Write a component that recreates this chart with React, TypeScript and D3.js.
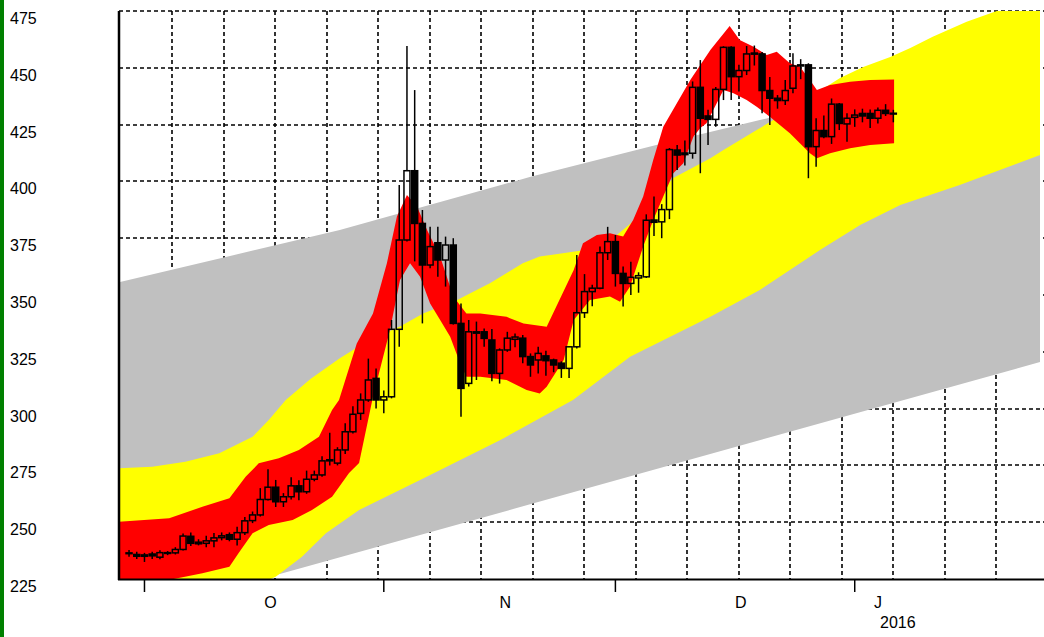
import React from 'react';
import * as d3 from 'd3';

// ---- data ----
const START = Date.UTC(2015, 8, 29); // first candle: 29 Sep 2015
const DAY = 864e5;

const opens = [
  236.5, 235.8, 235, 236, 234.6, 236.4, 236.5, 238, 243.8, 241.2,
  240.7, 241.8, 243.2, 244.5, 242.5, 245.4, 250.7, 253.2, 260, 265.4,
  259, 261.2, 266, 263.4, 268.9, 270.8, 277, 276, 281.8, 289.8,
  297.9, 303.8, 313.3, 303.8, 305.2, 334.9, 374.2, 404.7, 381.5, 363.2,
  373, 365.4, 372, 337.5, 311.1, 333.2, 333.8, 330.2, 315.5, 325.8,
  330.5, 331, 322.9, 321.4, 323.2, 321.4, 320, 317.7, 327.2, 342.2,
  351.5, 353, 368.6, 373.5, 359.5, 355.1, 357.5, 358, 383, 382.2,
  387.6, 413.8, 412.5, 412.4, 441.4, 428.8, 427.3, 440.5, 459, 446.1,
  448.8, 456, 456.1, 440, 436.6, 435.6, 441, 450.8, 451.3, 415.3,
  422.4, 419.7, 434, 425.3, 428.2, 429.9, 429.9, 427.8, 431.3, 430,
];
const highs = [
  237.8, 237, 236.5, 237, 237.7, 237.3, 239, 245, 245.5, 242.5,
  244, 245.2, 245.5, 245.5, 248, 252.3, 254.7, 265, 273.3, 268.6,
  262.8, 269.8, 268.5, 272.7, 272.7, 279, 289.4, 283, 293.5, 301,
  306.7, 322, 317.7, 308, 339, 398.4, 459.6, 440.2, 387.4, 380,
  380, 375.7, 375, 346.3, 339, 338.3, 335.3, 335, 326.5, 333.8,
  333, 332.4, 324.3, 327.2, 325.5, 322, 320.8, 327.5, 367.6, 359.2,
  354.5, 371.3, 380, 376.4, 362.5, 364.6, 360, 385.5, 393.3, 390,
  414.7, 416, 418, 444, 453.4, 431.5, 441.5, 459.5, 459.5, 451.3,
  459.6, 459.8, 457, 446, 438, 444.6, 456.4, 453.8, 452, 427.8,
  429, 436.5, 434.5, 430, 431.7, 432, 431.7, 432.5, 434, 431.5,
];
const lows = [
  234.8, 233.8, 232.5, 233.8, 233.7, 235.5, 235.8, 237.5, 239.5, 239.8,
  239, 239, 242, 241.6, 239.7, 244.4, 249.6, 252.5, 259.5, 256.7,
  256.7, 260, 259.7, 262.5, 268, 270, 275, 275, 280, 289,
  295, 303, 300, 298, 304.5, 327.2, 373.5, 364.8, 337.5, 361.8,
  358, 353.7, 337, 296.4, 309.7, 312.6, 327.2, 312, 311, 325,
  327, 320, 314, 315.5, 314.5, 316, 313.5, 313.5, 326.5, 339.9,
  345, 352.5, 365.4, 353.7, 344.9, 350, 351, 357.5, 376, 375,
  383.4, 405, 407, 410, 403.6, 416, 424, 435.8, 435.8, 439.6,
  446.8, 451, 430, 424.8, 432, 433.6, 438.8, 445, 401.4, 406.5,
  419, 416.5, 422.6, 417.5, 424, 426, 423.5, 425.5, 428.8, 426,
];
const closes = [
  236.2, 235, 235.6, 235.2, 236.6, 236.6, 238, 243.9, 240.7, 240.5,
  241.8, 243.1, 244, 242.5, 245.4, 250.6, 253.2, 260, 265.4, 259,
  261.2, 266, 263.4, 268.9, 270.8, 277, 277.5, 281.8, 289.8, 297.5,
  303.8, 312.6, 303.8, 305.2, 334.9, 374.2, 404.7, 381.5, 363.2, 371.3,
  365.4, 372, 337.5, 308.9, 333.8, 333.8, 330.9, 315.5, 325.8, 331,
  331.5, 322.9, 319.2, 324.3, 321.1, 319.2, 317.7, 327.2, 342.2, 351.5,
  353, 368.6, 373.5, 359.5, 355.1, 357.8, 358.5, 382.9, 382, 387.6,
  414, 411.6, 411.8, 441.4, 427.8, 427.3, 440.5, 459, 446.1, 448.8,
  456.1, 456.5, 440, 436.6, 435.6, 440, 450.8, 451.3, 415.3, 422.4,
  419.7, 434, 425.5, 427.8, 429.2, 428.8, 427.8, 431.3, 429.9, 430,
];

const yTicks = [225, 250, 275, 300, 325, 350, 375, 400, 425, 450, 475];
const monthLabels = ['O', 'N', 'D', 'J'];
const yearLabel = '2016';

// bands: [day offset from first candle, value]
const grayUpper: [number, number][] = [
  [-1.3, 355.6], [27.3, 378.6], [51.9, 401.9], [68.8, 416.5], [82.6, 427.7], [118, 458],
];
const grayLower: [number, number][] = [
  [-1.3, 207.5], [17.2, 225], [54.5, 260.3], [118, 320.5],
];
const yellowUpper: [number, number][] = [
  [-1.3, 273.7], [3.0, 274.4], [7.3, 276.6], [11.7, 280.3], [16.0, 287.6], [18.1, 295],
  [20.3, 303.8], [23.5, 313], [27.3, 322.2], [31, 330], [35.1, 336.1], [38.1, 341.9],
  [42.5, 347.8], [46.8, 355.3], [51.0, 364], [53.2, 366.9], [58.4, 369.5], [62, 373],
  [66.2, 385], [70.5, 401.5], [75.3, 410.2], [77.0, 413.8], [81.3, 422.6], [83.9, 427.9],
  [92.1, 445.5], [95.1, 450.3], [98.6, 454.7], [101.2, 458.7], [104.1, 463.7],
  [108.5, 470.3], [112.4, 475], [118, 483],
];
const yellowLower: [number, number][] = [
  [-1.3, 200], [10, 212], [19, 226], [22.4, 234.8], [25.5, 245.1], [29.8, 255.4],
  [37.7, 268.6], [48.1, 286.2], [57.5, 303.8], [64.9, 322.8], [75.3, 340.4], [81.7, 352.2],
  [89.5, 369.8], [94.7, 380.8], [99.9, 389.6], [107.6, 398.4], [118, 411.6],
];
const redUpper: [number, number][] = [
  [-1.3, 250.2], [5.2, 251.7], [9.5, 256.8], [13.0, 260.5], [15.1, 270], [16.8, 275.9],
  [19.4, 278.1], [22.0, 281.8], [24.6, 287.6], [26.3, 299.4], [27.2, 303.8], [29.5, 328.7],
  [31.6, 341.9], [33.4, 364], [34.7, 384.5], [36.0, 394], [37.3, 388.9], [38.6, 378.6],
  [40.3, 366.9], [42.0, 349.3], [43.7, 341.9], [45.5, 341.9], [48.9, 340.4], [51.1, 337.5],
  [54.1, 336], [57.6, 361], [58.8, 372.8], [60.6, 376.4], [62.3, 377.2], [64.0, 375.7],
  [65.3, 383], [66.6, 393.3], [67.9, 409.4], [69.2, 424.1], [72.7, 444.6], [75.3, 457.8],
  [77.8, 468.4], [79.1, 462.2], [80.9, 459.3], [82.6, 455.6], [83.9, 457.1], [85.6, 452],
  [86.9, 450.5], [88.2, 444.6], [89.1, 440.2], [90.8, 442.4], [93.4, 443.9], [96.0, 444.6],
  [99.1, 444.9],
];
const redLower: [number, number][] = [
  [-1.3, 221], [5.2, 224.6], [9.5, 227.5], [13.0, 230.4], [14.2, 236.4], [16.0, 245.1],
  [18.1, 248.8], [21.2, 251], [23.7, 255.4], [26.3, 261.2], [28.5, 271.7], [29.8, 276.1],
  [31.6, 305.2], [33.8, 334.6], [35.1, 356.6], [36.4, 364], [37.7, 358], [39.0, 346.3],
  [40.3, 339], [41.6, 331.6], [42.9, 319.9], [43.7, 314], [45.5, 314], [48.9, 312.6],
  [51.5, 308.2], [53.2, 306.7], [54.1, 309.6], [56.3, 321.4], [57.6, 339], [59.7, 347.8],
  [62.3, 349.3], [63.6, 347], [64.9, 353.7], [66.6, 371.3], [67.9, 383], [69.2, 393.3],
  [70.5, 403.6], [71.8, 408], [73.1, 419.7], [74.0, 423.5], [74.8, 425.6], [77.0, 440.2],
  [78.3, 438.8], [80.0, 435.8], [81.3, 432.9], [83.0, 428.5], [85.6, 421.2], [86.9, 416.8],
  [88.2, 412.4], [89.1, 410.2], [90.8, 412.4], [93.4, 414.6], [96.0, 416], [99.1, 416.8],
];

const FONT = '"Liberation Sans", Arial, sans-serif';

export default function App() {
  const W = 1044;
  const H = 637;
  const left = 119;
  const right = 1040;
  const top = 11;
  const bottom = 579;

  const x = d3
    .scaleUtc()
    .domain([new Date(START - 1.3 * DAY), new Date(START + 118 * DAY)])
    .range([left, right]);
  const y = d3.scaleLinear().domain([225, 475]).range([bottom, top]);
  const xd = (d: number) => x(new Date(START + d * DAY));

  const line = d3
    .line<[number, number]>()
    .x((p) => xd(p[0]))
    .y((p) => y(p[1]));
  const band = (upper: [number, number][], lower: [number, number][]) => {
    const up = line(upper) as string;
    const lo = line([...lower].reverse()) as string;
    return up + 'L' + lo.slice(1) + 'Z';
  };

  const lastDate = new Date(START + (opens.length - 1) * DAY);
  const months = d3.utcMonth.range(x.domain()[0], x.domain()[1]);
  const monthMarks = months.map((m, i) => {
    const next = d3.utcMonth.offset(m, 1);
    const end = next < lastDate ? next : lastDate;
    return { tx: x(m), lx: (x(m) + x(end)) / 2, label: monthLabels[i] };
  });

  const gridX = d3.range(1, 18).map((k) => left + 1.5 + 51.5 * k);
  const gridY = yTicks.filter((v) => v > 225);

  return (
    <svg
      width={W}
      height={H}
      style={{ position: 'absolute', left: 0, top: 0, background: '#fff' }}
      fontFamily={FONT}
    >
      <defs>
        <clipPath id="plot">
          <rect x={left} y={top} width={right - left} height={bottom - top} />
        </clipPath>
      </defs>
      <rect x={0} y={0} width={W} height={H} fill="#fff" />

      {/* grid */}
      <g stroke="#000" strokeWidth={1.6} strokeDasharray="4,3">
        {gridY.map((v) => (
          <line key={'h' + v} x1={left} x2={W} y1={Math.round(y(v))} y2={Math.round(y(v))} />
        ))}
        {gridX.map((gx) => (
          <line key={'v' + gx} x1={Math.round(gx)} x2={Math.round(gx)} y1={top} y2={bottom} />
        ))}
      </g>

      {/* bands */}
      <g clipPath="url(#plot)">
        <path d={band(grayUpper, grayLower)} fill="#c0c0c0" />
        <path d={band(yellowUpper, yellowLower)} fill="#ffff00" />
        <path d={band(redUpper, redLower)} fill="#ff0000" />
      </g>

      {/* candles */}
      <g clipPath="url(#plot)">
        {opens.map((o, i) => {
          const c = closes[i];
          const cx = xd(i);
          const hiBody = Math.max(o, c);
          const loBody = Math.min(o, c);
          const yTop = y(hiBody);
          const yBot = y(loBody);
          const down = c < o;
          return (
            <g key={i}>
              <line x1={cx} x2={cx} y1={y(highs[i])} y2={yTop} stroke="#000" strokeWidth={1.5} />
              <line x1={cx} x2={cx} y1={yBot} y2={y(lows[i])} stroke="#000" strokeWidth={1.5} />
              <rect
                x={cx - 3}
                y={yTop}
                width={6}
                height={Math.max(0.8, yBot - yTop)}
                fill={down ? '#000' : 'none'}
                stroke="#000"
                strokeWidth={1.5}
              />
            </g>
          );
        })}
      </g>

      {/* axes */}
      <line x1={left} x2={left} y1={top} y2={bottom + 1} stroke="#000" strokeWidth={2.5} />
      <line x1={left - 1} x2={W} y1={bottom + 0.5} y2={bottom + 0.5} stroke="#000" strokeWidth={2} />

      {yTicks.map((v) => (
        <text key={'yl' + v} x={10} y={y(v) + 7.5} fontSize={16} dominantBaseline="central" fill="#000">
          {v}
        </text>
      ))}

      {monthMarks.map((m) => (
        <g key={m.label}>
          <line x1={m.tx} x2={m.tx} y1={bottom} y2={bottom + 13} stroke="#000" strokeWidth={1.5} />
          <text x={m.lx} y={602} fontSize={16} dominantBaseline="central" fill="#000">
            {m.label}
          </text>
        </g>
      ))}
      <text x={monthMarks[monthMarks.length - 1].lx + 6} y={622} fontSize={16} dominantBaseline="central" fill="#000">
        {yearLabel}
      </text>

      {/* left green bar */}
      <rect x={0} y={0} width={4} height={H} fill="#008000" />
    </svg>
  );
}
